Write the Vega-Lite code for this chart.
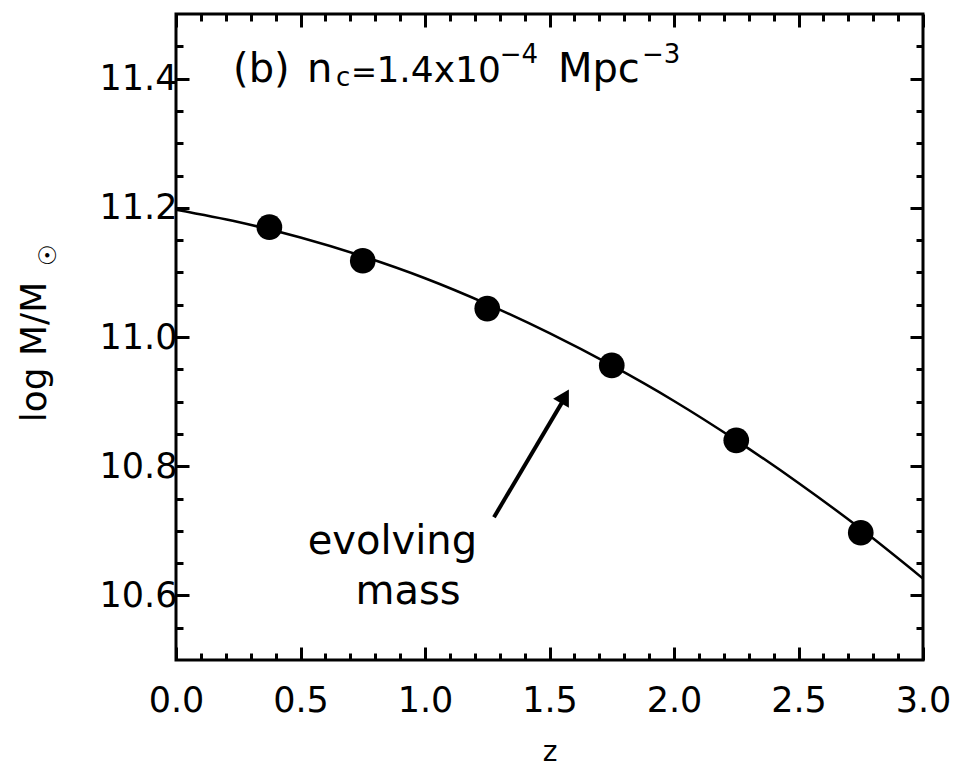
{
  "$schema": "https://vega.github.io/schema/vega-lite/v6.json",
  "width": 747,
  "height": 646,
  "autosize": {"type": "none"},
  "padding": {"left": 176, "top": 14, "right": 49, "bottom": 110},
  "background": "white",
  "config": {
    "view": {"stroke": "black", "strokeWidth": 3},
    "font": "DejaVu Sans",
    "axis": {
      "domain": false, "grid": false, "tickColor": "black", "tickWidth": 3,
      "labelColor": "black", "titleColor": "black", "labelFont": "DejaVu Sans",
      "titleFont": "DejaVu Sans", "labelFlush": false, "labelOverlap": false
    },
    "text": {"font": "DejaVu Sans", "color": "black"}
  },
  "datasets": {
    "curve": [
      {"z": 0.0, "m": 11.197}, {"z": 0.25, "m": 11.178}, {"z": 0.5, "m": 11.154},
      {"z": 0.75, "m": 11.125}, {"z": 1.0, "m": 11.091}, {"z": 1.25, "m": 11.051},
      {"z": 1.5, "m": 11.006}, {"z": 1.75, "m": 10.956}, {"z": 2.0, "m": 10.901},
      {"z": 2.25, "m": 10.840}, {"z": 2.5, "m": 10.774}, {"z": 2.75, "m": 10.703},
      {"z": 3.0, "m": 10.626}
    ],
    "points": [
      {"z": 0.375, "m": 11.170}, {"z": 0.75, "m": 11.118}, {"z": 1.25, "m": 11.044},
      {"z": 1.75, "m": 10.956}, {"z": 2.25, "m": 10.840}, {"z": 2.75, "m": 10.697}
    ],
    "arrow": [{"z": 1.277, "m": 10.721, "z2": 1.56, "m2": 10.905}],
    "head": [{"z": 1.562, "m": 10.908}],
    "big": [
      {"z": 0.229, "m": 11.395, "t": "(b)"},
      {"z": 0.526, "m": 11.395, "t": "n"},
      {"z": 1.534, "m": 11.395, "t": "Mpc"}
    ],
    "mid": [
      {"z": 0.805, "m": 11.395, "t": "1.4x10"}
    ],
    "eq": [
      {"z": 0.703, "m": 11.395, "t": "="}
    ],
    "small": [
      {"z": 0.643, "m": 11.389, "t": "c"},
      {"z": 1.300, "m": 11.424, "t": "−4"},
      {"z": 1.871, "m": 11.424, "t": "−3"}
    ],
    "note": [
      {"z": 0.869, "m": 10.664, "t": "evolving"},
      {"z": 0.932, "m": 10.587, "t": "mass"}
    ],
    "ytitle": [{"z": -0.522, "m": 10.868, "t": "log  M/M"}],
    "ysun": [{"z": -0.482, "m": 11.110, "t": "☉"}]
  },
  "layer": [
    {
      "data": {"name": "curve"},
      "mark": {"type": "line", "color": "black", "strokeWidth": 2.5, "interpolate": "monotone"},
      "encoding": {
        "x": {"field": "z", "type": "quantitative", "scale": {"domain": [0, 3], "nice": false, "zero": false},
          "axis": {"orient": "bottom", "values": [0, 0.5, 1, 1.5, 2, 2.5, 3], "format": ".1f", "tickSize": -13,
            "labelFontSize": 35, "labelPadding": 36, "title": "z", "titleFontSize": 28, "titleFontWeight": "normal", "titlePadding": 20}},
        "y": {"field": "m", "type": "quantitative", "scale": {"domain": [10.5, 11.5], "nice": false, "zero": false},
          "axis": {"orient": "left", "values": [10.6, 10.8, 11.0, 11.2, 11.4], "format": ".1f", "tickSize": -13,
            "labelFontSize": 35, "labelPadding": 12, "title": null}}
      }
    },
    {
      "data": {"name": "points"},
      "mark": {"type": "circle", "color": "black", "opacity": 1, "size": 660},
      "encoding": {
        "x": {"field": "z", "type": "quantitative", "scale": {"domain": [0, 3], "nice": false, "zero": false},
          "axis": {"orient": "bottom", "values": [0.1, 0.2, 0.3, 0.4, 0.6, 0.7, 0.8, 0.9, 1.1, 1.2, 1.3, 1.4, 1.6, 1.7, 1.8, 1.9, 2.1, 2.2, 2.3, 2.4, 2.6, 2.7, 2.8, 2.9],
            "tickSize": -7, "labels": false, "title": null}},
        "y": {"field": "m", "type": "quantitative", "scale": {"domain": [10.5, 11.5], "nice": false, "zero": false},
          "axis": {"orient": "left", "values": [10.55, 10.65, 10.7, 10.75, 10.85, 10.9, 10.95, 11.05, 11.1, 11.15, 11.25, 11.3, 11.35, 11.45],
            "tickSize": -7, "labels": false, "title": null}}
      }
    },
    {
      "data": {"name": "arrow"},
      "mark": {"type": "rule", "color": "black", "strokeWidth": 4},
      "encoding": {
        "x": {"field": "z", "type": "quantitative", "scale": {"domain": [0, 3], "nice": false, "zero": false},
          "axis": {"orient": "top", "values": [0, 0.5, 1, 1.5, 2, 2.5, 3], "tickSize": -13, "labels": false, "title": null}},
        "y": {"field": "m", "type": "quantitative", "scale": {"domain": [10.5, 11.5], "nice": false, "zero": false},
          "axis": {"orient": "right", "values": [10.6, 10.8, 11.0, 11.2, 11.4], "tickSize": -13, "labels": false, "title": null}},
        "x2": {"field": "z2"},
        "y2": {"field": "m2"}
      }
    },
    {
      "data": {"name": "head"},
      "mark": {"type": "point", "shape": "triangle-up", "filled": true, "color": "black", "opacity": 1, "size": 330, "angle": 30},
      "encoding": {
        "x": {"field": "z", "type": "quantitative", "scale": {"domain": [0, 3], "nice": false, "zero": false},
          "axis": {"orient": "top", "values": [0.1, 0.2, 0.3, 0.4, 0.6, 0.7, 0.8, 0.9, 1.1, 1.2, 1.3, 1.4, 1.6, 1.7, 1.8, 1.9, 2.1, 2.2, 2.3, 2.4, 2.6, 2.7, 2.8, 2.9],
            "tickSize": -7, "labels": false, "title": null}},
        "y": {"field": "m", "type": "quantitative", "scale": {"domain": [10.5, 11.5], "nice": false, "zero": false},
          "axis": {"orient": "right", "values": [10.55, 10.65, 10.7, 10.75, 10.85, 10.9, 10.95, 11.05, 11.1, 11.15, 11.25, 11.3, 11.35, 11.45],
            "tickSize": -7, "labels": false, "title": null}}
      }
    },
    {
      "data": {"name": "big"},
      "mark": {"type": "text", "fontSize": 40, "align": "left", "baseline": "alphabetic", "color": "black"},
      "encoding": {
        "x": {"field": "z", "type": "quantitative", "scale": {"domain": [0, 3], "nice": false, "zero": false}, "axis": null},
        "y": {"field": "m", "type": "quantitative", "scale": {"domain": [10.5, 11.5], "nice": false, "zero": false}, "axis": null},
        "text": {"field": "t"}
      }
    },
    {
      "data": {"name": "mid"},
      "mark": {"type": "text", "fontSize": 36, "align": "left", "baseline": "alphabetic", "color": "black"},
      "encoding": {
        "x": {"field": "z", "type": "quantitative", "scale": {"domain": [0, 3], "nice": false, "zero": false}, "axis": null},
        "y": {"field": "m", "type": "quantitative", "scale": {"domain": [10.5, 11.5], "nice": false, "zero": false}, "axis": null},
        "text": {"field": "t"}
      }
    },
    {
      "data": {"name": "eq"},
      "mark": {"type": "text", "fontSize": 31, "align": "left", "baseline": "alphabetic", "color": "black"},
      "encoding": {
        "x": {"field": "z", "type": "quantitative", "scale": {"domain": [0, 3], "nice": false, "zero": false}, "axis": null},
        "y": {"field": "m", "type": "quantitative", "scale": {"domain": [10.5, 11.5], "nice": false, "zero": false}, "axis": null},
        "text": {"field": "t"}
      }
    },
    {
      "data": {"name": "small"},
      "mark": {"type": "text", "fontSize": 26, "align": "left", "baseline": "alphabetic", "color": "black"},
      "encoding": {
        "x": {"field": "z", "type": "quantitative", "scale": {"domain": [0, 3], "nice": false, "zero": false}, "axis": null},
        "y": {"field": "m", "type": "quantitative", "scale": {"domain": [10.5, 11.5], "nice": false, "zero": false}, "axis": null},
        "text": {"field": "t"}
      }
    },
    {
      "data": {"name": "note"},
      "mark": {"type": "text", "fontSize": 40, "align": "center", "baseline": "alphabetic", "color": "black"},
      "encoding": {
        "x": {"field": "z", "type": "quantitative", "scale": {"domain": [0, 3], "nice": false, "zero": false}, "axis": null},
        "y": {"field": "m", "type": "quantitative", "scale": {"domain": [10.5, 11.5], "nice": false, "zero": false}, "axis": null},
        "text": {"field": "t"}
      }
    },
    {
      "data": {"name": "ytitle"},
      "mark": {"type": "text", "fontSize": 36, "align": "left", "baseline": "alphabetic", "angle": 270, "color": "black"},
      "encoding": {
        "x": {"field": "z", "type": "quantitative", "scale": {"domain": [0, 3], "nice": false, "zero": false}, "axis": null},
        "y": {"field": "m", "type": "quantitative", "scale": {"domain": [10.5, 11.5], "nice": false, "zero": false}, "axis": null},
        "text": {"field": "t"}
      }
    },
    {
      "data": {"name": "ysun"},
      "mark": {"type": "text", "fontSize": 24, "align": "left", "baseline": "alphabetic", "angle": 270, "color": "black"},
      "encoding": {
        "x": {"field": "z", "type": "quantitative", "scale": {"domain": [0, 3], "nice": false, "zero": false}, "axis": null},
        "y": {"field": "m", "type": "quantitative", "scale": {"domain": [10.5, 11.5], "nice": false, "zero": false}, "axis": null},
        "text": {"field": "t"}
      }
    }
  ],
  "resolve": {"axis": {"x": "independent", "y": "independent"}}
}
